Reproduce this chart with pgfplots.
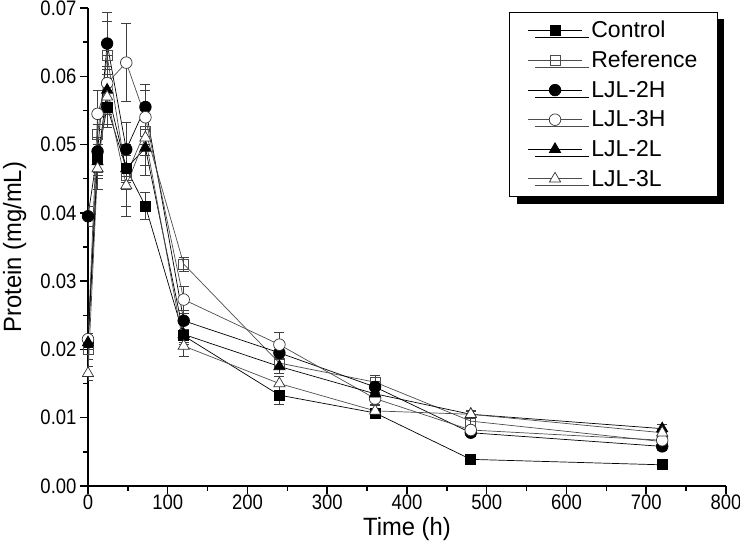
\documentclass[border=0pt]{standalone}
\usepackage{pgfplots}
\pgfplotsset{compat=1.18}
\usepackage{pgfplotstable}
\usepackage{fontspec}
\setmainfont{Liberation Sans}
\newfontfamily\ticksfont[FakeStretch=0.88]{Liberation Sans}
\newfontfamily\labelfont[FakeStretch=0.95]{Liberation Sans}
\usetikzlibrary{shadows}

% t  value  error
\pgfplotstableread{
t y e
0 0.0210 0.0010
12 0.0480 0.0020
24 0.0555 0.0030
48 0.0465 0.0030
72 0.0410 0.0020
120 0.0220 0.0010
240 0.0133 0.0013
360 0.0107 0.0005
480 0.0039 0.0003
720 0.0031 0.0003
}\control
\pgfplotstableread{
t y e
0 0.0200 0.0015
12 0.0515 0.0035
24 0.0630 0.0050
48 0.0455 0.0045
72 0.0520 0.0035
120 0.0325 0.0010
240 0.0180 0.0015
360 0.0152 0.0010
480 0.0095 0.0008
720 0.0065 0.0004
}\reference
\pgfplotstableread{
t y e
0 0.0395 0.0015
12 0.0490 0.0040
24 0.0648 0.0045
48 0.0493 0.0040
72 0.0555 0.0033
120 0.0242 0.0015
240 0.0195 0.0010
360 0.0145 0.0008
480 0.0078 0.0005
720 0.0058 0.0005
}\ljltwoh
\pgfplotstableread{
t y e
0 0.0215 0.0008
12 0.0545 0.0035
24 0.0590 0.0040
48 0.0620 0.0057
72 0.0540 0.0040
120 0.0273 0.0020
240 0.0207 0.0018
360 0.0128 0.0008
480 0.0082 0.0005
720 0.0067 0.0005
}\ljlthreeh
\pgfplotstableread{
t y e
0 0.0210 0.0010
12 0.0475 0.0020
24 0.0580 0.0035
48 0.0465 0.0020
72 0.0495 0.0040
120 0.0222 0.0015
240 0.0175 0.0010
360 0.0135 0.0008
480 0.0105 0.0005
720 0.0084 0.0006
}\ljltwol
\pgfplotstableread{
t y e
0 0.0165 0.0010
12 0.0465 0.0030
24 0.0570 0.0040
48 0.0440 0.0045
72 0.0510 0.0040
120 0.0205 0.0015
240 0.0150 0.0011
360 0.0110 0.0008
480 0.0105 0.0006
720 0.0078 0.0005
}\ljlthreel

\begin{document}
\begin{tikzpicture}
\path[use as bounding box] (-88pt,-70pt) rectangle (652pt,486pt);
\begin{axis}[
  at={(0pt,0pt)}, anchor=south west,
  width=638pt, height=478pt, scale only axis,
  xmin=0, xmax=800, ymin=0, ymax=0.07,
  axis lines=left,
  axis line style={-, line width=1.8pt},
  xtick={0,100,...,800},
  ytick={0,0.01,0.02,0.03,0.04,0.05,0.06,0.07},
  minor x tick num=1, minor y tick num=1,
  tick align=outside,
  major tick length=8pt, minor tick length=5pt,
  major tick style={line width=1.5pt, black},
  minor tick style={line width=1.5pt, black},
  scaled y ticks=false,
  yticklabel style={/pgf/number format/.cd, fixed, fixed zerofill, precision=2},
  /pgf/number format/assume math mode=true,
  tick label style={font=\ticksfont\fontsize{21}{23}\selectfont},
  xticklabel style={yshift=3pt},
  every axis x label/.style={at={(axis description cs:0.5,-0.089)}, anchor=center},
  every axis y label/.style={at={(axis description cs:-0.115,0.5)}, rotate=90, anchor=center},
  label style={font=\labelfont\fontsize{25}{27}\selectfont},
  xlabel={Time (h)}, ylabel={Protein (mg/mL)},
  legend cell align=left,
  legend style={at={(rel axis cs:0.987,0.992)}, anchor=north east,
    draw=black, fill=white, thin,
    drop shadow={shadow xshift=7pt, shadow yshift=-7pt, fill=black, opacity=1},
    font=\fontsize{23}{27}\selectfont, inner xsep=18pt, inner ysep=7pt,
    nodes={inner sep=2pt},
    row sep=8pt,
    /tikz/every odd column/.append style={column sep=7pt}},
  legend image code/.code={\draw[mark repeat=2,mark phase=2,#1] plot coordinates {(0pt,0pt)(27pt,0pt)(54pt,0pt)};},
  every axis plot/.append style={line width=0.7pt},
  error bars/error bar style={line width=0.6pt, black!75},
  error bars/error mark options={rotate=90, mark size=5pt, line width=0.6pt, black!75},
]
\addplot[black, mark=square*, mark size=5pt, mark options={fill=black, solid},
  error bars/.cd, y dir=both, y explicit] table[x=t, y=y, y error=e]{\control};
\addlegendentry{Control}
\addplot[black!70, mark=square, mark size=5pt, mark options={fill=white, draw=black!70},
  error bars/.cd, y dir=both, y explicit] table[x=t, y=y, y error=e]{\reference};
\addlegendentry{Reference}
\addplot[black, mark=*, mark size=5.8pt, mark options={fill=black},
  error bars/.cd, y dir=both, y explicit] table[x=t, y=y, y error=e]{\ljltwoh};
\addlegendentry{LJL-2H}
\addplot[black!70, mark=*, mark size=5.8pt, mark options={fill=white, draw=black!80},
  error bars/.cd, y dir=both, y explicit] table[x=t, y=y, y error=e]{\ljlthreeh};
\addlegendentry{LJL-3H}
\addplot[black, mark=triangle*, mark size=6.5pt, mark options={fill=black},
  error bars/.cd, y dir=both, y explicit] table[x=t, y=y, y error=e]{\ljltwol};
\addlegendentry{LJL-2L}
\addplot[black!70, mark=triangle*, mark size=6.5pt, mark options={fill=white, draw=black!80},
  error bars/.cd, y dir=both, y explicit] table[x=t, y=y, y error=e]{\ljlthreel};
\addlegendentry{LJL-3L}
\end{axis}
\end{tikzpicture}
\end{document}
